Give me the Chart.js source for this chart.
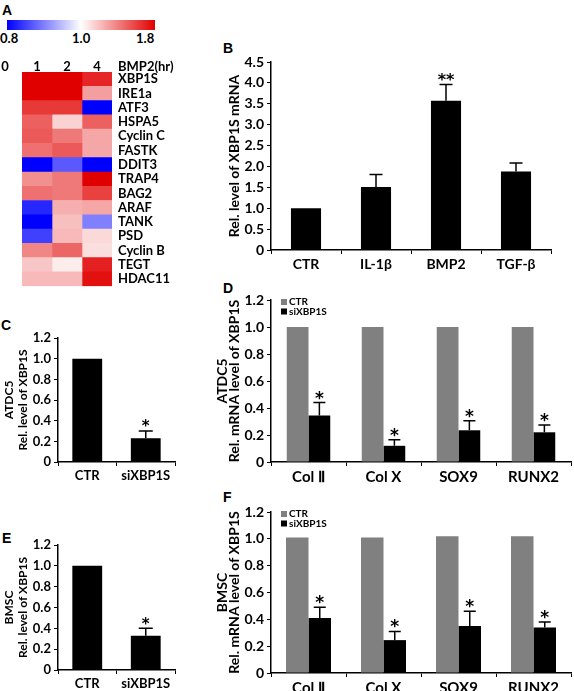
<!DOCTYPE html>
<html>
<head>
<meta charset="utf-8">
<script src="https://cdn.jsdelivr.net/npm/chart.js@4.4.0/dist/chart.umd.min.js"></script>
<style>
body{margin:0;background:#fff;width:574px;height:691px;position:relative;overflow:hidden;font-family:Lato,'Liberation Sans',sans-serif;}
canvas{position:absolute;}
.pl{position:absolute;font:bold 14px 'Liberation Sans',Arial,sans-serif;line-height:14px;}
.cb{position:absolute;left:7px;top:20px;width:148px;height:10px;background:linear-gradient(to right,rgb(0,0,255),#fff 50%,rgb(225,0,0));}
.ct{position:absolute;top:31px;font:bold 13px Lato,sans-serif;line-height:14px;}
</style>
</head>
<body>
<div class="pl" style="left:2px;top:3px">A</div>
<div class="pl" style="left:223px;top:41px">B</div>
<div class="pl" style="left:1px;top:318px">C</div>
<div class="pl" style="left:223px;top:281px">D</div>
<div class="pl" style="left:2px;top:531px">E</div>
<div class="pl" style="left:223px;top:490px">F</div>

<div class="cb"></div>
<div id="cbTicks"></div>

<canvas id="cA" width="200" height="250" style="left:0px;top:50px"></canvas>
<canvas id="cB" width="374" height="240" style="left:200px;top:40px"></canvas>
<canvas id="cC" width="200" height="180" style="left:0px;top:315px"></canvas>
<canvas id="cD" width="374" height="205" style="left:200px;top:278px"></canvas>
<canvas id="cE" width="200" height="171" style="left:0px;top:520px"></canvas>
<canvas id="cF" width="374" height="196" style="left:200px;top:495px"></canvas>

<script>
// ---- heatmap (A) ----
const hmGenes = ['XBP1S','IRE1a','ATF3','HSPA5','Cyclin C','FASTK','DDIT3','TRAP4','BAG2','ARAF','TANK','PSD','Cyclin B','TEGT','HDAC11'];
const hmCols = ['1','2','4'];
const hm1 = [1.8, 1.8, 1.62, 1.5, 1.52, 1.45, 0.8, 1.35, 1.45, 0.83, 0.8, 0.85, 1.38, 1.18, 1.22];
const hm2 = [1.8, 1.8, 1.62, 1.14, 1.42, 1.52, 0.87, 1.42, 1.42, 1.25, 1.2, 1.22, 1.48, 1.06, 1.22];
const hm4 = [1.68, 1.3, 0.8, 1.5, 1.28, 1.28, 0.8, 1.8, 1.6, 1.28, 0.9, 1.12, 1.1, 1.7, 1.75];
const cbLabels = ['0.8','1.0','1.8'];
const cbLeft = [0, 72, 136];

// ---- B ----
const bCats = ['CTR','IL-1\u03b2','BMP2','TGF-\u03b2'];
const bVals = [1.0, 1.51, 3.57, 1.88];
const bErr = [null, 1.81, 3.96, 2.08];
const bStars = ['', '', '**', ''];

// ---- C / E ----
const ceCats = ['CTR','siXBP1S'];
const cVals = [1.0, 0.23];
const cErr = [null, 0.30];
const cStars = ['', '*'];
const eVals = [1.0, 0.33];
const eErr = [null, 0.40];
const eStars = ['', '*'];

// ---- D / F ----
const dfCats = ['Col \u2161','Col X','SOX9','RUNX2'];
const dCtr = [1.0, 1.0, 1.0, 1.0];
const dSi = [0.345, 0.12, 0.235, 0.22];
const dErr = [0.44, 0.165, 0.305, 0.275];
const fCtr = [1.01, 1.01, 1.02, 1.02];
const fSi = [0.41, 0.245, 0.35, 0.34];
const fErr = [0.49, 0.31, 0.46, 0.38];
const starsAll = ['*','*','*','*'];

Chart.defaults.font.family = "Lato, 'Liberation Sans', sans-serif";
Chart.defaults.font.weight = 'bold';
Chart.defaults.color = '#000';
Chart.defaults.animation = false;
Chart.defaults.plugins.legend.display = false;
Chart.defaults.plugins.tooltip.enabled = false;

function heatColor(v){
    if (v < 1) {
        let t = Math.min(1, (1 - v) / 0.2);
        let c = Math.round(255 * (1 - t));
        return 'rgb(' + c + ',' + c + ',255)';
    }
    let t = Math.min(1, (v - 1) / 0.8);
    let g = Math.round(255 * (1 - t));
    return 'rgb(' + Math.round(255 - 30 * t) + ',' + g + ',' + g + ')';
}

// colorbar tick labels
let cbDiv = document.getElementById('cbTicks');
for (let i = 0; i < cbLabels.length; i++) {
    let s = document.createElement('div');
    s.className = 'ct';
    s.textContent = cbLabels[i];
    s.style.left = cbLeft[i] + 'px';
    cbDiv.appendChild(s);
}

const hmHeader = {
    id: 'hmHeader',
    afterDraw(chart){
        let ctx = chart.ctx, x = chart.scales.x;
        ctx.save();
        ctx.font = "bold 13px Lato, sans-serif";
        ctx.fillStyle = '#000';
        ctx.textBaseline = 'middle';
        ctx.textAlign = 'center';
        ctx.fillText('0', x.getPixelForValue(-0.57), 17);
        for (let i = 0; i < hmCols.length; i++) {
            ctx.fillText(hmCols[i], x.getPixelForValue(i + 0.5), 17);
        }
        ctx.textAlign = 'left';
        ctx.fillText('BMP2(hr)', chart.chartArea.right + 6, 17);
        ctx.restore();
    }
};

const hmData = [hm1, hm2, hm4];
new Chart(document.getElementById('cA'), {
    type: 'bar',
    data: {
        labels: hmGenes,
        datasets: hmData.map((vals, c) => ({
            label: hmCols[c],
            data: vals.map(() => 1),
            backgroundColor: vals.map(heatColor),
            borderWidth: 0,
            categoryPercentage: 1,
            barPercentage: 1
        }))
    },
    options: {
        responsive: false,
        indexAxis: 'y',
        layout: {padding: {left: 22, top: 22, right: 0, bottom: 13}},
        scales: {
            x: {stacked: true, min: 0, max: 3, display: false},
            y: {
                stacked: true, position: 'right',
                grid: {display: false, drawTicks: false},
                border: {display: false},
                ticks: {crossAlign: 'near', padding: 6, autoSkip: false, font: {size: 13}},
                afterFit: s => { s.width = 88; }
            }
        }
    },
    plugins: [hmHeader]
});

// error bars + stars
const errPlugin = {
    id: 'errbars',
    afterDatasetsDraw(chart, args, opts){
        let ctx = chart.ctx, y = chart.scales.y;
        chart.data.datasets.forEach((ds, i) => {
            if (!ds.err) return;
            let meta = chart.getDatasetMeta(i);
            meta.data.forEach((bar, j) => {
                if (ds.err[j] == null) return;
                let top = y.getPixelForValue(ds.err[j]);
                ctx.save();
                ctx.strokeStyle = '#000';
                ctx.lineWidth = 1.5;
                ctx.beginPath();
                ctx.moveTo(bar.x, bar.y);
                ctx.lineTo(bar.x, top);
                ctx.moveTo(bar.x - opts.cap, top);
                ctx.lineTo(bar.x + opts.cap, top);
                ctx.stroke();
                if (ds.stars && ds.stars[j]) {
                    ctx.fillStyle = '#000';
                    ctx.font = 'bold ' + opts.star + "px 'DejaVu Sans', sans-serif";
                    ctx.textAlign = 'center';
                    ctx.textBaseline = 'alphabetic';
                    ctx.fillText(ds.stars[j], bar.x, top - 5 + 0.35 * opts.star);
                }
                ctx.restore();
            });
        });
    }
};

const boxLegend = {
    id: 'boxLegend',
    afterDraw(chart){
        let a = chart.chartArea, ctx = chart.ctx;
        ctx.save();
        ctx.font = "bold 10px Lato, sans-serif";
        ctx.textBaseline = 'middle';
        chart.data.datasets.forEach((ds, i) => {
            let yy = a.top + 2 + i * 9.5;
            ctx.fillStyle = ds.backgroundColor;
            ctx.fillRect(a.left + 10, yy - 3, 6, 6);
            ctx.fillStyle = '#000';
            ctx.fillText(ds.label, a.left + 18, yy);
        });
        ctx.restore();
    }
};

function yAxis(o){
    return {
        min: 0, max: o.max,
        ticks: {stepSize: o.step, font: {size: o.yf}, padding: 3,
            callback: v => v == 0 ? '0' : v.toFixed(1)},
        grid: {display: true, drawOnChartArea: false, tickLength: 4, color: '#000', lineWidth: 1},
        border: {display: true, color: '#000', width: 1.5},
        title: {display: true, text: o.title, color: '#000',
            font: {size: o.tf, lineHeight: o.tlh}, padding: {top: 2, bottom: 0}},
        afterFit: s => { s.width = o.yw; }
    };
}

function xAxis(o){
    return {
        grid: {display: true, drawOnChartArea: false, offset: true, tickLength: 4, color: '#000', lineWidth: 1},
        border: {display: true, color: '#000', width: 1.5},
        ticks: {font: {size: o.xf}, padding: 2, maxRotation: 0, autoSkip: false},
        afterFit: s => { s.height = o.xh; }
    };
}

function makeBar(id, labels, datasets, o){
    return new Chart(document.getElementById(id), {
        type: 'bar',
        data: {labels: labels, datasets: datasets},
        options: {
            responsive: false,
            layout: {padding: o.pad},
            scales: {x: xAxis(o), y: yAxis(o)},
            plugins: {errbars: {cap: o.cap, star: o.star}}
        },
        plugins: o.legend ? [errPlugin, boxLegend] : [errPlugin]
    });
}

// B
makeBar('cB', bCats, [{
    label: 'XBP1S', data: bVals, err: bErr, stars: bStars,
    backgroundColor: '#000', barPercentage: 0.43, categoryPercentage: 1
}], {pad: {left: 24, top: 22, right: 23, bottom: 0}, yw: 47, xh: 30, xf: 14,
    max: 4.5, step: 0.5, yf: 14, title: 'Rel. level of XBP1S mRNA', tf: 14, tlh: 1.2, cap: 6.5, star: 16});

// C
makeBar('cC', ceCats, [{
    label: 'XBP1S', data: cVals, err: cErr, stars: cStars,
    backgroundColor: '#000', barPercentage: 0.51, categoryPercentage: 1
}], {pad: {left: 0, top: 23, right: 25, bottom: 0}, yw: 58, xh: 33, xf: 13,
    max: 1.2, step: 0.2, yf: 13, title: ['ATDC5', 'Rel. level of XBP1S'], tf: 12, tlh: 1.15, cap: 7, star: 15});

// D
makeBar('cD', dfCats, [
    {label: 'CTR', data: dCtr, backgroundColor: '#808080', barPercentage: 1, categoryPercentage: 0.58},
    {label: 'siXBP1S', data: dSi, err: dErr, stars: starsAll, backgroundColor: '#000', barPercentage: 1, categoryPercentage: 0.58}
], {pad: {left: 14, top: 22, right: 3, bottom: 0}, yw: 57, xh: 21, xf: 15, legend: true,
    max: 1.2, step: 0.2, yf: 14, title: ['ATDC5', 'Rel. mRNA level of XBP1S'], tf: 14, tlh: 0.86, cap: 6, star: 17});

// E
makeBar('cE', ceCats, [{
    label: 'XBP1S', data: eVals, err: eErr, stars: eStars,
    backgroundColor: '#000', barPercentage: 0.51, categoryPercentage: 1
}], {pad: {left: 0, top: 25, right: 25, bottom: 0}, yw: 58, xh: 21, xf: 13,
    max: 1.2, step: 0.2, yf: 13, title: ['BMSC', 'Rel. level of XBP1S'], tf: 12, tlh: 1.15, cap: 7, star: 15});

// F
makeBar('cF', dfCats, [
    {label: 'CTR', data: fCtr, backgroundColor: '#808080', barPercentage: 1, categoryPercentage: 0.6},
    {label: 'siXBP1S', data: fSi, err: fErr, stars: starsAll, backgroundColor: '#000', barPercentage: 1, categoryPercentage: 0.6}
], {pad: {left: 14, top: 17, right: 3, bottom: 0}, yw: 57, xh: 18, xf: 15, legend: true,
    max: 1.2, step: 0.2, yf: 14, title: ['BMSC', 'Rel. mRNA level of XBP1S'], tf: 14, tlh: 0.86, cap: 6, star: 17});
</script>
</body>
</html>
